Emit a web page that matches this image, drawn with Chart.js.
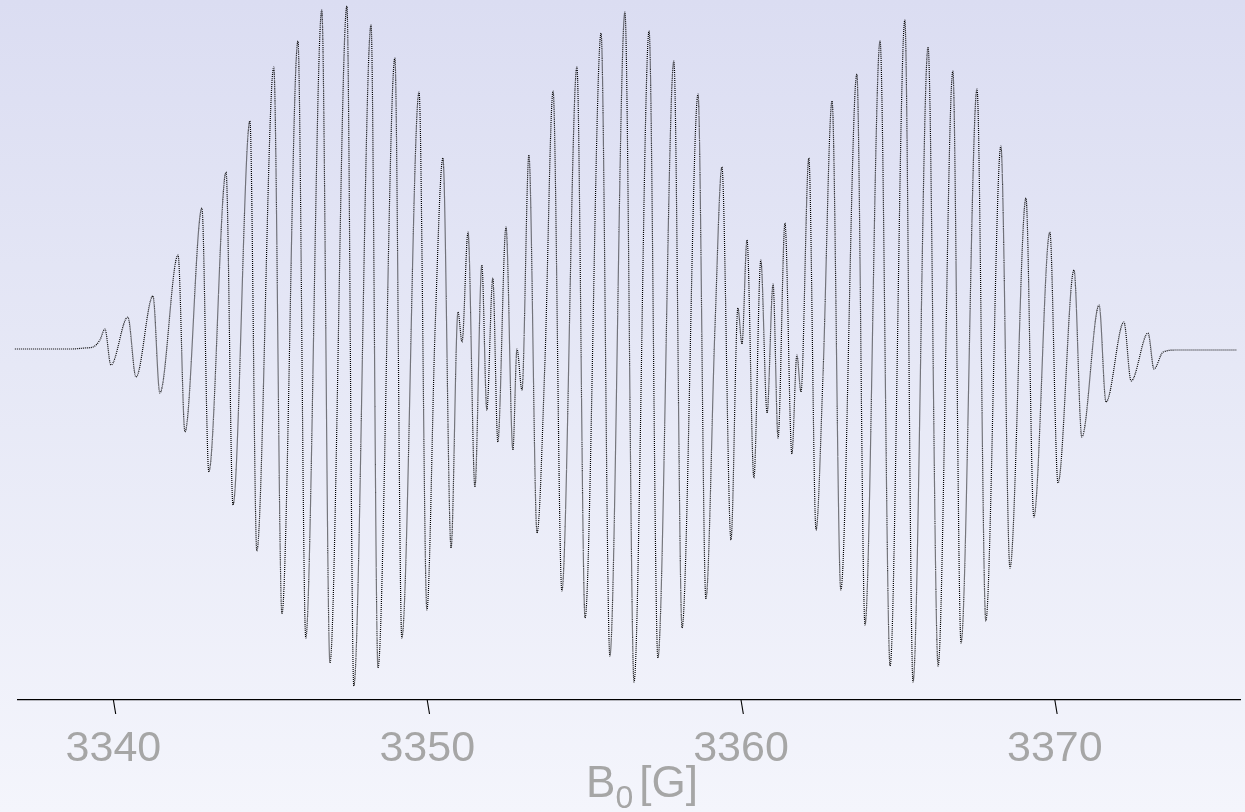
<!DOCTYPE html>
<html lang="en">
  <head>
    <meta charset="UTF-8" />
    <script src="https://cdn.jsdelivr.net/npm/chart.js"></script>
    <title>EPR spectrum</title>
    <style>
      html, body { margin: 0; padding: 0; }
      body {
        width: 1245px;
        height: 812px;
        overflow: hidden;
        background: linear-gradient(to bottom, #dbddf2 0%, #e6e8f6 45%, #f4f5fc 100%);
      }
      #wrap { position: relative; width: 1245px; height: 812px; }
    </style>
  </head>
  <body>
    <div id="wrap">
      <canvas id="spectrum"></canvas>
    </div>
    <script>
      // magnetic field B0 [G] and first-derivative signal (arb. units), peak/trough positions
      const fieldG = [
        3336.86, 3338.68, 3339.09, 3339.35, 3339.57, 3339.73, 3339.92, 3340.46, 3340.72,
        3341.26, 3341.48, 3342.06, 3342.28, 3342.82, 3343.04, 3343.59, 3343.81, 3344.35,
        3344.57, 3345.11, 3345.37, 3345.88, 3346.13, 3346.64, 3346.90, 3347.44, 3347.66,
        3348.21, 3348.43, 3348.97, 3349.19, 3349.74, 3349.99, 3350.25, 3350.50, 3350.76,
        3350.98, 3351.11, 3351.30, 3351.52, 3351.74, 3351.90, 3352.09, 3352.25, 3352.51,
        3352.73, 3352.86, 3353.02, 3353.24, 3353.50, 3353.75, 3354.01, 3354.29, 3354.77,
        3355.03, 3355.54, 3355.82, 3356.30, 3356.59, 3357.07, 3357.35, 3357.86, 3358.12,
        3358.63, 3358.88, 3359.17, 3359.39, 3359.68, 3359.90, 3360.03, 3360.19, 3360.41,
        3360.63, 3360.83, 3361.02, 3361.18, 3361.40, 3361.62, 3361.78, 3361.91, 3362.16,
        3362.39, 3362.61, 3362.90, 3363.18, 3363.69, 3363.95, 3364.43, 3364.75, 3365.22,
        3365.48, 3365.96, 3366.28, 3366.75, 3367.01, 3367.52, 3367.80, 3368.28, 3368.57,
        3369.08, 3369.33, 3369.84, 3370.10, 3370.61, 3370.86, 3371.41, 3371.63, 3372.20,
        3372.43, 3372.97, 3373.16, 3373.45, 3373.89, 3375.80
      ];
      const signal = [
        0, 0, 1, 2, 9, 20, -16, 32, -28,
        53, -44, 94, -83, 141, -123, 177, -156, 228,
        -202, 282, -265, 308, -289, 339, -314, 343, -337,
        324, -319, 291, -289, 257, -261, 19, 191, -199,
        37, 7, 117, -138, 84, -61, 71, -93, 122,
        -101, 0, -41, 194, -184, -14, 258, -242, 282,
        -269, 316, -307, 337, -333, 318, -309, 288, -279,
        255, -250, 22, 182, -191, 41, 5, 109, -129,
        89, -64, 65, -89, 126, -105, -6, -43, 191,
        -181, -28, 248, -241, 275, -276, 308, -317, 329,
        -333, 302, -317, 278, -294, 260, -272, 203, -219,
        151, -168, 117, -134, 79, -88, 44, -53, 27,
        -32, 16, -20, -3, -1, -1
      ];
      const tickValues = [3340, 3350, 3360, 3370];
      const fieldMin = 3336.96;
      const fieldMax = 3375.9;

      // slanted tick marks below the axis line
      const slantTicks = {
        id: 'slantTicks',
        afterDraw(chart) {
          const ctx = chart.ctx;
          const xs = chart.scales.x;
          const y0 = chart.chartArea.bottom;
          ctx.save();
          ctx.strokeStyle = '#000';
          ctx.lineWidth = 1.1;
          tickValues.forEach(v => {
            const px = xs.getPixelForValue(v);
            ctx.beginPath();
            ctx.moveTo(px, y0);
            ctx.lineTo(px + 2.3, y0 + 14);
            ctx.stroke();
          });
          ctx.restore();
        }
      };

      // axis title with a subscript zero, drawn under the tick labels
      const axisTitle = {
        id: 'axisTitle',
        afterDraw(chart) {
          const ctx = chart.ctx;
          ctx.save();
          ctx.fillStyle = '#a6a6a6';
          ctx.textBaseline = 'alphabetic';
          ctx.font = '44px "Liberation Sans", Arial, sans-serif';
          const bW = ctx.measureText('B').width;
          ctx.font = '32px "Liberation Sans", Arial, sans-serif';
          const sW = ctx.measureText('0').width;
          ctx.font = '44px "Liberation Sans", Arial, sans-serif';
          const gW = ctx.measureText('[G]').width;
          const total = bW + sW + 6 + gW;
          let x = 642 - total / 2;
          ctx.fillText('B', x, 797);
          x += bW;
          ctx.font = '32px "Liberation Sans", Arial, sans-serif';
          ctx.fillText('0', x, 808);
          x += sW + 6;
          ctx.font = '44px "Liberation Sans", Arial, sans-serif';
          ctx.fillText('[G]', x, 797);
          ctx.restore();
        }
      };

      const points = fieldG.map((b, i) => ({ x: b, y: signal[i] }));

      new Chart(document.getElementById('spectrum'), {
        type: 'line',
        data: {
          datasets: [{
            data: points,
            borderColor: '#000',
            borderWidth: 1.2,
            borderDash: [1, 1],
            pointRadius: 0,
            cubicInterpolationMode: 'monotone',
            clip: false,
            fill: false
          }]
        },
        options: {
          responsive: true,
          maintainAspectRatio: false,
          animation: false,
          layout: { padding: { left: 18, right: 5, top: 0, bottom: 0 } },
          plugins: {
            legend: { display: false },
            tooltip: { enabled: false }
          },
          scales: {
            x: {
              type: 'linear',
              min: fieldMin,
              max: fieldMax,
              afterBuildTicks: (scale) => {
                scale.ticks = tickValues.map(v => ({ value: v }));
              },
              afterFit: (scale) => { scale.height = 112; },
              border: { display: true, color: '#000', width: 1.3 },
              grid: {
                drawOnChartArea: false,
                drawTicks: false,
                tickLength: 14
              },
              ticks: {
                color: '#a6a6a6',
                padding: 23,
                maxRotation: 0,
                font: { family: '"Liberation Sans", Arial, sans-serif', size: 43 },
                callback: (v) => String(v)
              }
            },
            y: {
              display: false,
              min: -351,
              max: 349
            }
          }
        },
        plugins: [slantTicks, axisTitle]
      });
    </script>
  </body>
</html>
